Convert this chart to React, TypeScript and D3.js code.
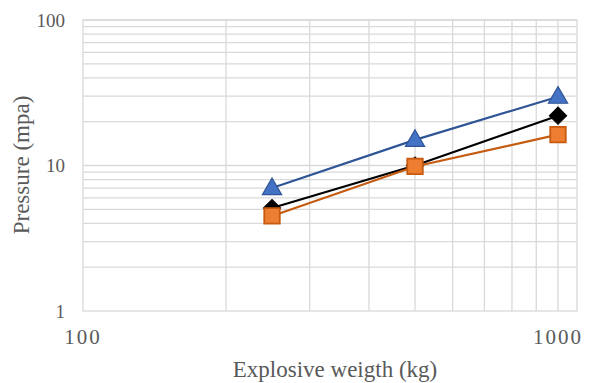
import React from "react";
import * as d3 from "d3";

const weights = [250, 500, 1000];
const seriesBlue = [7.0, 15.0, 29.7];
const seriesBlack = [5.1, 10.0, 22.0];
const seriesOrange = [4.5, 9.85, 16.3];
const xTickLabels = [100, 1000];
const yTickLabels = [1, 10, 100];
const xTitle = "Explosive weigth (kg)";
const yTitle = "Pressure (mpa)";

const W = 591;
const H = 383;
const left = 83;
const top = 20;
const plotW = 494;
const plotH = 291;
const decadeW = 475;

export default function App() {
  const x = d3.scaleLog().domain([100, 1000]).range([left, left + decadeW]);
  const y = d3.scaleLog().domain([1, 100]).range([top + plotH, top]);

  const xGrid: number[] = [];
  for (let v = 200; v <= 1000; v += 100) xGrid.push(v);
  const yGrid: number[] = [];
  for (let d = 1; d < 100; d *= 10) for (let k = 2; k <= 10; k++) yGrid.push(d * k);

  const line = d3
    .line<number>()
    .x((_, i) => x(weights[i]))
    .y((v) => y(v));

  const font = "Liberation Serif, Times New Roman, serif";
  const textColor = "#595959";
  const grid = "#d9d9d9";

  const tri = d3.symbol().type(d3.symbolTriangle).size(160)();
  const sq = d3.symbol().type(d3.symbolSquare).size(240)();
  const dia = d3.symbol().type(d3.symbolSquare).size(150)();

  return (
    <svg width={W} height={H} style={{ position: "absolute", left: 0, top: 0, background: "#fff" }}>
      <rect x={0} y={0} width={W} height={H} fill="#fff" />
      {yGrid.map((v) => (
        <line key={"yg" + v} x1={left} x2={left + plotW} y1={y(v)} y2={y(v)} stroke={grid} strokeWidth={1.3} />
      ))}
      {xGrid.map((v) => (
        <line key={"xg" + v} x1={x(v)} x2={x(v)} y1={top} y2={top + plotH} stroke={grid} strokeWidth={1.3} />
      ))}
      <rect x={left} y={top} width={plotW} height={plotH} fill="none" stroke={grid} strokeWidth={1.3} />

      {yTickLabels.map((v) => (
        <text key={"yl" + v} x={65} y={y(v)} dy="0.35em" textAnchor="end" fontFamily={font} fontSize={19} fill={textColor}>
          {v}
        </text>
      ))}
      {xTickLabels.map((v) => (
        <text key={"xl" + v} x={x(v)} y={344} textAnchor="middle" fontFamily={font} fontSize={21} letterSpacing={2} fill={textColor}>
          {v}
        </text>
      ))}
      <text x={335} y={377} textAnchor="middle" fontFamily={font} fontSize={23} fill={textColor}>
        {xTitle}
      </text>
      <text
        transform={`translate(29, 165) rotate(-90)`}
        textAnchor="middle"
        fontFamily={font}
        fontSize={23}
        fill={textColor}
      >
        {yTitle}
      </text>

      <path d={line(seriesBlack) || ""} fill="none" stroke="#000" strokeWidth={2.2} />
      {seriesBlack.map((v, i) => (
        <path key={"bk" + i} d={dia || ""} transform={`translate(${x(weights[i])},${y(v)}) rotate(45)`} fill="#000" stroke="#000" strokeWidth={1} />
      ))}
      <path d={line(seriesBlue) || ""} fill="none" stroke="#2f5597" strokeWidth={2.2} />
      {seriesBlue.map((v, i) => (
        <path key={"bl" + i} d={tri || ""} transform={`translate(${x(weights[i])},${y(v) + 1})`} fill="#4472c4" stroke="#2f5597" strokeWidth={1.2} />
      ))}
      <path d={line(seriesOrange) || ""} fill="none" stroke="#c55a11" strokeWidth={2.2} />
      {seriesOrange.map((v, i) => (
        <path key={"or" + i} d={sq || ""} transform={`translate(${x(weights[i])},${y(v)})`} fill="#ed7d31" stroke="#c55a11" strokeWidth={1.8} />
      ))}
    </svg>
  );
}
